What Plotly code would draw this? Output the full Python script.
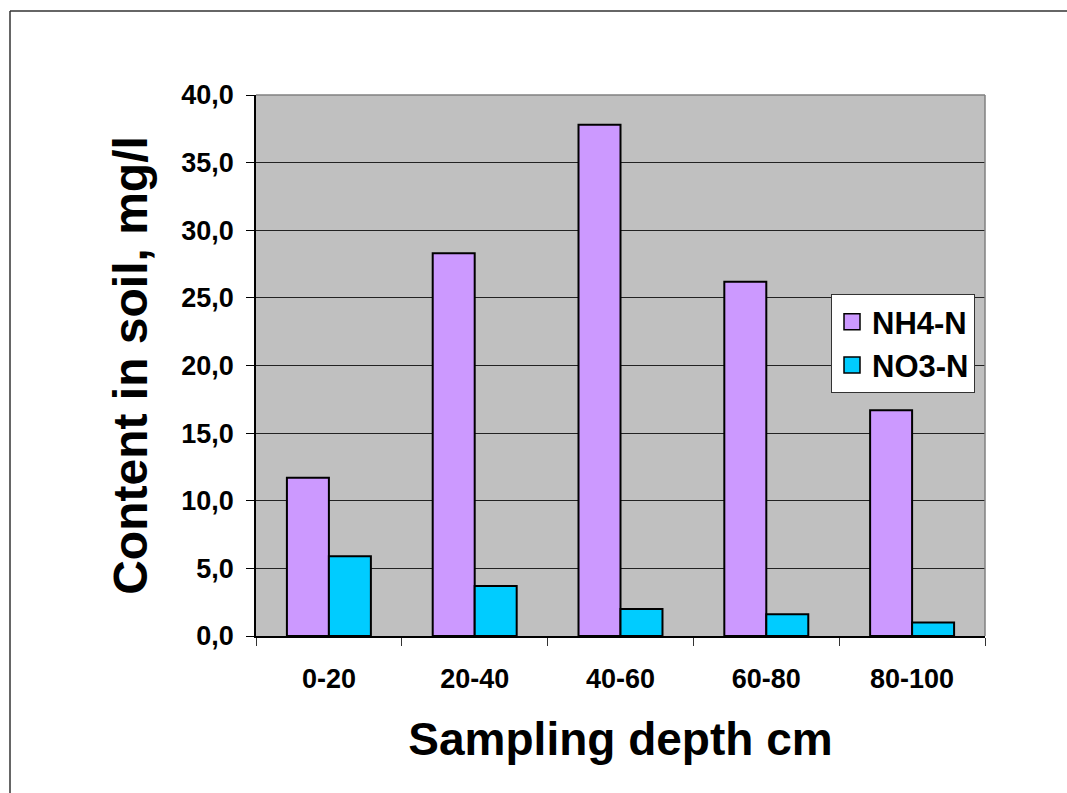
import plotly.graph_objects as go

categories = ["0-20", "20-40", "40-60", "60-80", "80-100"]
nh4_values = [11.7, 28.3, 37.8, 26.2, 16.7]
no3_values = [5.9, 3.7, 2.0, 1.6, 1.0]
series_names = ["NH4-N", "NO3-N"]
series_colors = ["#CC99FF", "#00CCFF"]
y_tick_values = [0, 5, 10, 15, 20, 25, 30, 35, 40]

FONT = "Liberation Sans, Arial, sans-serif"

fig = go.Figure()
for vals, name, col in zip([nh4_values, no3_values], series_names, series_colors):
    fig.add_trace(go.Bar(
        x=categories, y=vals, name=name, legendgroup=name, showlegend=False,
        marker=dict(color=col, line=dict(color="black", width=2)),
    ))
# legend entries with larger square swatches
for name, col in zip(series_names, series_colors):
    fig.add_trace(go.Scatter(
        x=[None], y=[None], name=name, legendgroup=name, mode="markers",
        marker=dict(symbol="square", size=20, color=col, line=dict(color="black", width=1.5)),
    ))

W, H = 1067, 793
L, R, T, B = 256, 82, 95, 157
pw, ph = W - L - R, H - T - B

def px(x):
    return (x - L) / pw

def py(y):
    return (H - B - y) / ph

fig.update_layout(
    width=W, height=H,
    margin=dict(l=L, r=R, t=T, b=B, autoexpand=False),
    paper_bgcolor="white",
    plot_bgcolor="#C0C0C0",
    barmode="group",
    bargap=0.424,
    bargroupgap=0,
    separators=", ",
    font=dict(family=FONT, color="black", size=27),
    showlegend=True,
    legend=dict(
        x=px(831), y=py(294), xanchor="left", yanchor="top",
        bgcolor="white", bordercolor="#333333", borderwidth=1,
        font=dict(family=FONT, size=31, color="black", weight="bold"),
        itemsizing="trace",
        tracegroupgap=0,
    ),
    xaxis=dict(
        type="category",
        tickson="boundaries",
        ticks="outside", ticklen=8, tickcolor="#333333", tickwidth=1,
        showline=True, linecolor="black", linewidth=1.5,
        showgrid=False,
        tickfont=dict(family=FONT, size=27, color="black", weight="bold"),
        ticklabelstandoff=18,
        title=dict(text="Sampling depth cm", standoff=30,
                   font=dict(family=FONT, size=46, color="black", weight="bold")),
        automargin=False,
    ),
    yaxis=dict(
        range=[0, 40],
        tickvals=y_tick_values,
        tickformat=".1f",
        ticks="outside", ticklen=8, tickcolor="black", tickwidth=1,
        showline=True, linecolor="black", linewidth=1.5,
        showgrid=True, gridcolor="#222222", gridwidth=1,
        zeroline=False,
        tickfont=dict(family=FONT, size=27, color="black", weight="bold"),
        ticklabelstandoff=7,
        title=dict(text="Content in soil, mg/l", standoff=18,
                   font=dict(family=FONT, size=48, color="black", weight="bold")),
        automargin=False,
    ),
    shapes=[
        dict(type="line", xref="paper", yref="paper", x0=0, x1=1, y0=1, y1=1,
             line=dict(color="#808080", width=1.5)),
        dict(type="line", xref="paper", yref="paper", x0=1, x1=1, y0=0, y1=1,
             line=dict(color="#808080", width=1.5)),
        # outer chart frame (top and left edges visible)
        dict(type="line", xref="paper", yref="paper",
             x0=px(10), x1=px(1067), y0=py(11), y1=py(11),
             line=dict(color="#333333", width=1.5)),
        dict(type="line", xref="paper", yref="paper",
             x0=px(10), x1=px(10), y0=py(11), y1=py(793),
             line=dict(color="#333333", width=1.5)),
    ],
)

fig.write_html("out.html", config={"displayModeBar": False})
